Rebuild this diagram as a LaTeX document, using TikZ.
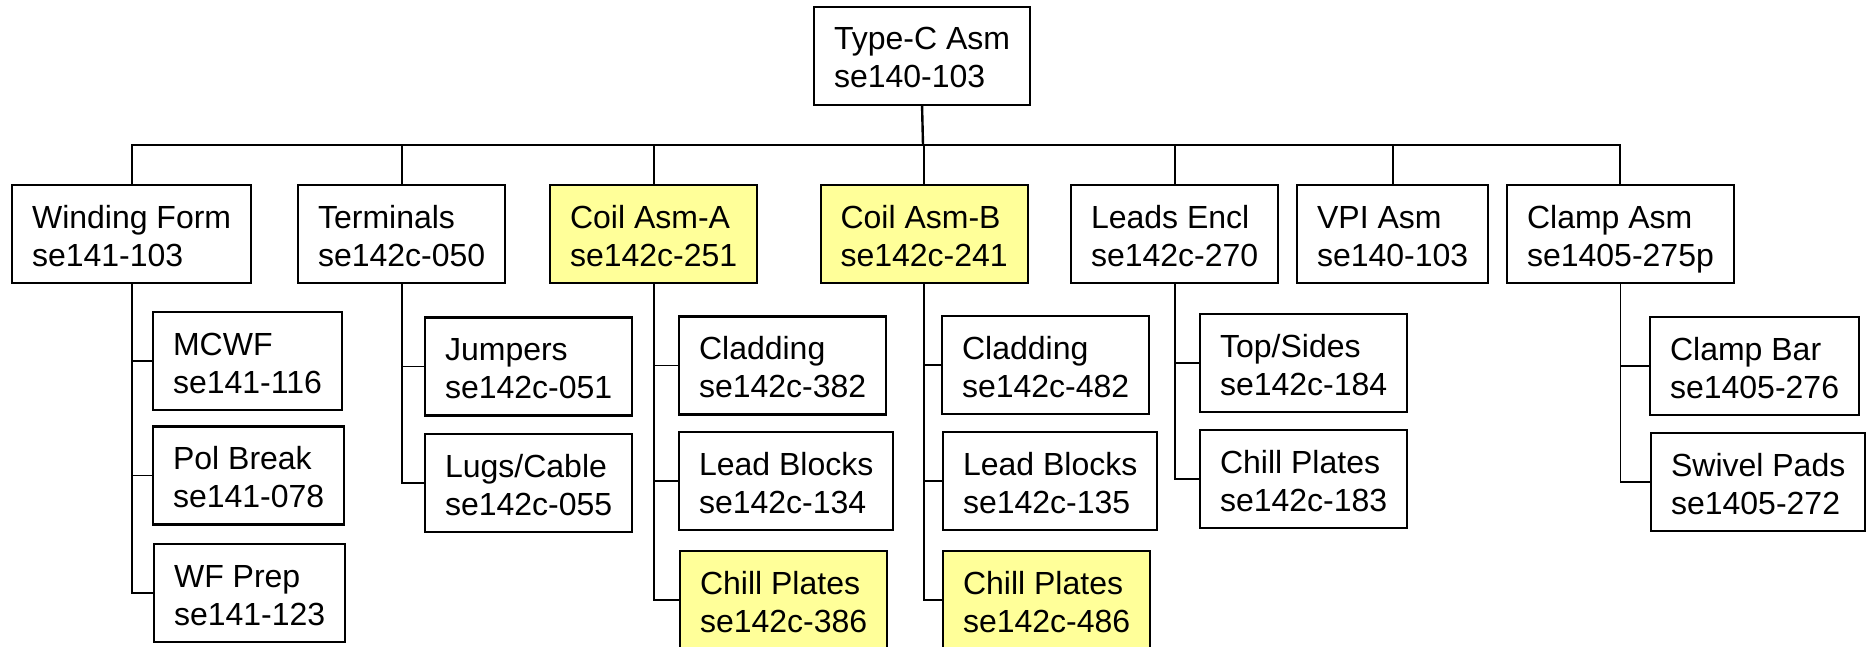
\documentclass[tikz,border=0pt]{standalone}
\usepackage{fontspec}
\setmainfont{Liberation Sans}
\usepackage{xcolor}
\usetikzlibrary{positioning}
\definecolor{PartYellow}{RGB}{255,255,153}
% two text lines with a fixed height and depth
\newcommand{\partlines}[2]{\rule{0pt}{33pt}#1\\#2\rule[-7pt]{0pt}{7pt}}
\tikzset{
  part/.style={draw=black, fill=white, line width=2.1pt, anchor=west,
    inner xsep=20pt, minimum height=98pt, align=left,
    font=\fontsize{32}{38}\selectfont},
  hotpart/.style={part, fill=PartYellow},
  link/.style={line width=1.8pt, black}
}

\begin{document}
\begin{tikzpicture}[x=1pt, y=-1pt]
  \useasboundingbox (0,0) rectangle (1871,647);

  % top assembly
  \node[part] (typec) at (813,56) {\partlines{Type-C Asm}{se140-103}};
  \coordinate (bus) at (923,145);

  % first level
  \node[part]    (wform)  at (11,234)    {\partlines{Winding Form}{se141-103}};
  \node[part]    (term)   at (297,234)   {\partlines{Terminals}{se142c-050}};
  \node[hotpart] (coila)  at (549,234)   {\partlines{Coil Asm-A}{se142c-251}};
  \node[hotpart] (coilb)  at (819.5,234) {\partlines{Coil Asm-B}{se142c-241}};
  \node[part]    (leads)  at (1070,234)  {\partlines{Leads Encl}{se142c-270}};
  \node[part]    (vpi)    at (1296,234)  {\partlines{VPI Asm}{se140-103}};
  \node[part]    (clamp)  at (1506,234)  {\partlines{Clamp Asm}{se1405-275p}};

  % second level
  \node[part] (mcwf)   at (152,361)   {\partlines{MCWF}{se141-116}};
  \node[part] (polbrk) at (152,475.5) {\partlines{Pol Break}{se141-078}};
  \node[part] (wfprep) at (153,593)   {\partlines{WF Prep}{se141-123}};

  \node[part] (jumpers) at (424,366.5) {\partlines{Jumpers}{se142c-051}};
  \node[part] (lugs)    at (424,483)   {\partlines{Lugs/Cable}{se142c-055}};

  \node[part]    (clada)  at (678,365.5) {\partlines{Cladding}{se142c-382}};
  \node[part]    (leada)  at (678,481)   {\partlines{Lead Blocks}{se142c-134}};
  \node[hotpart] (chilla) at (679,600)   {\partlines{Chill Plates}{se142c-386}};

  \node[part]    (cladb)  at (941,365) {\partlines{Cladding}{se142c-482}};
  \node[part]    (leadb)  at (942,481) {\partlines{Lead Blocks}{se142c-135}};
  \node[hotpart] (chillb) at (942,600) {\partlines{Chill Plates}{se142c-486}};

  \node[part] (topsides) at (1199,363) {\partlines{Top/Sides}{se142c-184}};
  \node[part] (chilll)   at (1199,479) {\partlines{Chill Plates}{se142c-183}};

  \node[part] (clampbar) at (1649,366) {\partlines{Clamp Bar}{se1405-276}};
  \node[part] (swivel)   at (1650,482) {\partlines{Swivel Pads}{se1405-272}};

  % bus
  \draw[link, line width=2.4pt] (typec.south) -- (bus);
  \draw[link, line width=2pt] (wform.north) |- (bus) -| (clamp.north);
  \foreach \n in {term,coila,coilb,leads,vpi}
    \draw[link] (\n.north) -- (\n.north |- bus);

  % branches
  \foreach \p/\c in {wform/mcwf,wform/polbrk,wform/wfprep,
      term/jumpers,term/lugs,
      coila/clada,coila/leada,coila/chilla,
      coilb/cladb,coilb/leadb,coilb/chillb,
      leads/topsides,leads/chilll,
      clamp/clampbar,clamp/swivel}
    \draw[link] (\p.south) |- (\c.west);
\end{tikzpicture}
\end{document}
